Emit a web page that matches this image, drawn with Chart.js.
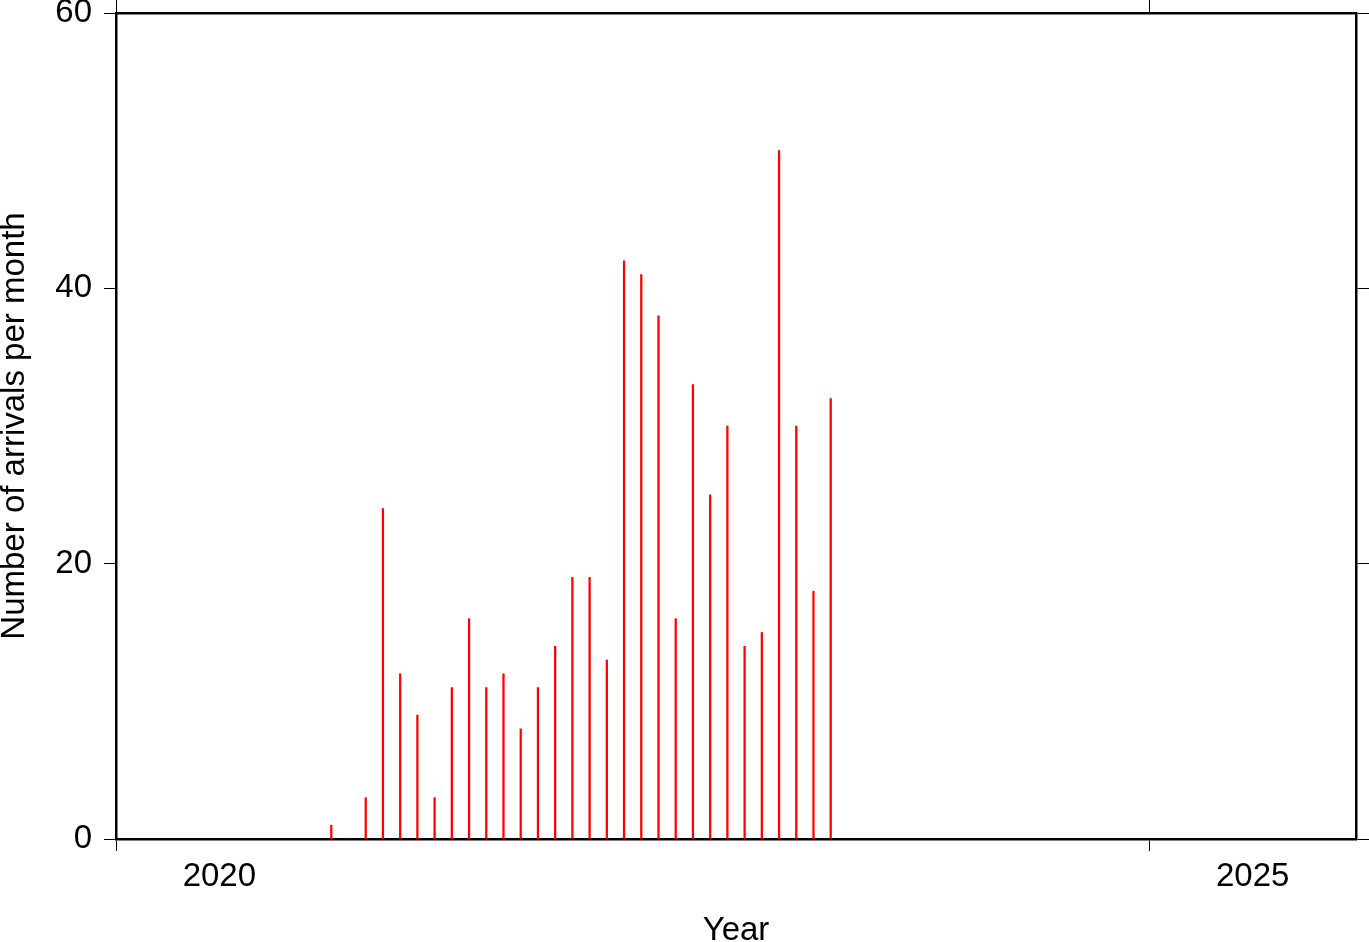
<!DOCTYPE html>
<html><head><meta charset="utf-8">
<script src="https://cdn.jsdelivr.net/npm/chart.js@4.4.1/dist/chart.umd.min.js"></script>
<style>html,body{margin:0;padding:0;background:#fff}canvas{display:block}</style>
</head><body>
<canvas id="c" width="1369" height="942"></canvas>
<script>
const months = ['2021-01','2021-02','2021-03','2021-04','2021-05','2021-06','2021-07','2021-08','2021-09','2021-10','2021-11','2021-12',
                '2022-01','2022-02','2022-03','2022-04','2022-05','2022-06','2022-07','2022-08','2022-09','2022-10','2022-11','2022-12',
                '2023-01','2023-02','2023-03','2023-04','2023-05','2023-06'];
const arrivals = [1,0,3,24,12,9,3,11,16,11,12,8,
                  11,14,19,19,13,42,41,38,16,33,25,30,
                  14,15,50,30,18,32];
const xTickYears = [2020, 2025];
const xTickLabels = ['2020', '2025'];
const yTickValues = [0, 20, 40, 60];
const xRange = [2020, 2026];
const yRange = [0, 60];

function monthToYear(s) {
  const [y, m] = s.split('-').map(Number);
  return y + (m - 0.5) / 12;
}
const points = months.map((m, i) => ({x: monthToYear(m), y: arrivals[i]}));

Chart.defaults.font.family = "'Liberation Sans', Arial, Helvetica, sans-serif";
Chart.defaults.font.size = 33;
Chart.defaults.color = '#000';

const black = '#000';
const clear = 'rgba(0,0,0,0)';
const frameWidth = 2.5;
const labelTicks = [];
xTickYears.forEach(y => { labelTicks.push(y); labelTicks.push(y + 0.5); });

function fixSize(prop, val) {
  return s => {
    s[prop] = val;
    s.paddingTop = 0; s.paddingBottom = 0; s.paddingLeft = 0; s.paddingRight = 0;
  };
}

new Chart(document.getElementById('c'), {
  type: 'bar',
  data: {
    datasets: [{
      data: points,
      backgroundColor: 'rgb(255,0,0)',
      borderWidth: 0,
      barThickness: 1.6,
      xAxisID: 'x',
      yAxisID: 'y'
    }]
  },
  options: {
    responsive: false,
    animation: false,
    devicePixelRatio: 1,
    layout: {padding: 0},
    plugins: {legend: {display: false}, tooltip: {enabled: false}},
    scales: {
      x: {
        type: 'linear', position: 'bottom', min: xRange[0], max: xRange[1], offset: false,
        afterBuildTicks: s => { s.ticks = labelTicks.map(v => ({value: v})); },
        afterFit: fixSize('height', 103),
        ticks: {
          autoSkip: false, maxRotation: 0, padding: 6,
          callback: v => { const i = xTickYears.indexOf(v - 0.5); return i >= 0 ? xTickLabels[i] : ''; }
        },
        grid: {drawOnChartArea: false, drawTicks: true, tickLength: 12, lineWidth: 1,
               tickColor: c => (c.tick && c.tick.value % 1 === 0) ? black : clear, offset: false},
        border: {display: true, color: black, width: frameWidth},
        title: {display: true, text: 'Year', padding: {top: 0, bottom: -9}}
      },
      x2: {
        type: 'linear', position: 'top', min: xRange[0], max: xRange[1], offset: false,
        afterBuildTicks: s => { s.ticks = xTickYears.map(v => ({value: v})); },
        afterFit: fixSize('height', 13),
        ticks: {display: false},
        grid: {drawOnChartArea: false, drawTicks: true, tickLength: 13, lineWidth: 1, tickColor: black, offset: false},
        border: {display: true, color: black, width: frameWidth}
      },
      y: {
        type: 'linear', position: 'left', min: yRange[0], max: yRange[1],
        afterBuildTicks: s => { s.ticks = yTickValues.map(v => ({value: v})); },
        afterFit: fixSize('width', 116),
        ticks: {padding: 12},
        grid: {drawOnChartArea: false, drawTicks: true, tickLength: 12, lineWidth: 1, tickColor: black},
        border: {display: true, color: black, width: frameWidth},
        title: {display: true, text: 'Number of arrivals per month', padding: {top: -5, bottom: 0}}
      },
      y2: {
        type: 'linear', position: 'right', min: yRange[0], max: yRange[1],
        afterBuildTicks: s => { s.ticks = yTickValues.map(v => ({value: v})); },
        afterFit: fixSize('width', 13),
        ticks: {display: false},
        grid: {drawOnChartArea: false, drawTicks: true, tickLength: 13, lineWidth: 1, tickColor: black},
        border: {display: true, color: black, width: frameWidth}
      }
    }
  }
});
</script>
</body></html>
